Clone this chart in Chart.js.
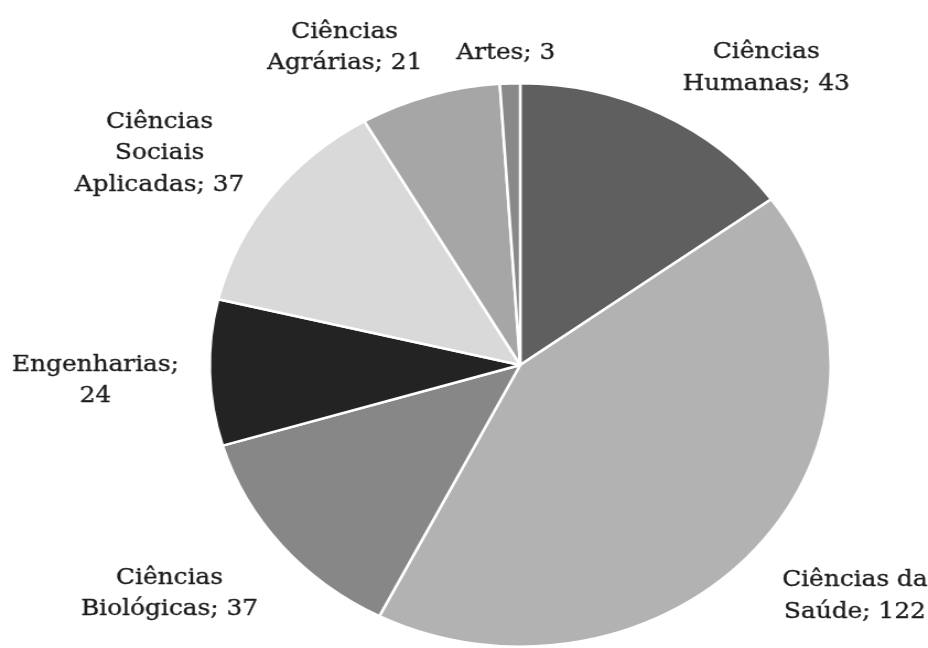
<!DOCTYPE html>
<html>
<head>
<meta charset="utf-8">
<script src="https://cdn.jsdelivr.net/npm/chart.js@4"></script>
<style>
    html, body { margin: 0; padding: 0; background: #fff; overflow: hidden; }
    /* the reference pie is slightly wider than tall, so the whole chart is stretched sideways */
    #wrap { width: 842px; height: 648px; transform: scaleX(1.1021); transform-origin: 0 0; }
</style>
</head>
<body>
<div id="wrap"><canvas id="pie"></canvas></div>
<script>
const categories = [
    ['Ciências', 'Humanas'],
    ['Ciências da', 'Saúde'],
    ['Ciências', 'Biológicas'],
    ['Engenharias'],
    ['Ciências', 'Sociais', 'Aplicadas'],
    ['Ciências', 'Agrárias'],
    ['Artes']
];
const values = [43, 122, 37, 24, 37, 21, 3];
const colors = ['#5f5f5f', '#b2b2b2', '#878787', '#232323', '#d9d9d9', '#a6a6a6', '#898989'];

// text lines for each label: "name; value" on the last line
const labelLines = (i) => {
    let lines = categories[i].slice();
    let last = lines.length - 1;
    if (i === 3) {
        lines = [lines[0] + ';', String(values[i])];
    } else {
        lines[last] = lines[last] + '; ' + values[i];
    }
    return lines;
}

const outsideLabels = {
    id: 'outsideLabels',
    afterDatasetsDraw(chart, args, opts) {
        const ctx = chart.ctx;
        const arcs = chart.getDatasetMeta(0).data;
        ctx.save();
        ctx.font = opts.font;
        ctx.fillStyle = opts.color;
        ctx.strokeStyle = opts.color;
        ctx.lineWidth = 0.35;
        ctx.textAlign = 'center';
        ctx.textBaseline = 'middle';
        for (let i = 0; i < arcs.length; i++) {
            const a = arcs[i].getProps(['x', 'y', 'startAngle', 'endAngle', 'outerRadius'], true);
            const mid = (a.startAngle + a.endAngle) / 2;
            const dx = Math.cos(mid), dy = Math.sin(mid);
            const lines = labelLines(i);
            let w = 0;
            lines.forEach(l => { w = Math.max(w, ctx.measureText(l).width); });
            const h = lines.length * opts.lineHeight;
            const r = a.outerRadius + opts.gap;
            const kx = Math.max(-1, Math.min(1, dx * 2));
            const ky = Math.max(-1, Math.min(1, dy * 2));
            const nudge = opts.nudge[i] || [0, 0];
            const cx = a.x + dx * (r + opts.extraX) + kx * w / 2 + nudge[0];
            const cy = a.y + dy * r + ky * h / 2 + nudge[1];
            lines.forEach((l, j) => {
                const ly = cy - h / 2 + opts.lineHeight * (j + 0.5);
                ctx.fillText(l, cx, ly);
                ctx.strokeText(l, cx, ly);
            });
        }
        ctx.restore();
    }
}

const ctx = document.getElementById('pie');
const myChart = new Chart(ctx, {
    type: 'pie',
    data: {
        labels: categories.map(c => c.join(' ')),
        datasets: [{
                data: values,
                backgroundColor: colors,
                borderColor: '#ffffff',
                borderWidth: 2.5
            }]
    },
    options: {
        responsive: true,
        maintainAspectRatio: false,
        animation: false,
        layout: {
            padding: {top: 82, bottom: 0, left: 189, right: 87}
        },
        plugins: {
            legend: {display: false},
            tooltip: {enabled: false},
            outsideLabels: {
                font: '22.5px "DejaVu Serif"',
                color: '#1c1c1c',
                lineHeight: 31.5,
                gap: 17,
                extraX: 11,
                nudge: [[14, 1], [2, 6], [0, 6], [0, 6], [-2, 14], [-28, 0], [0, 2]]
            }
        }
    },
    plugins: [outsideLabels]
});
</script>
</body>
</html>
